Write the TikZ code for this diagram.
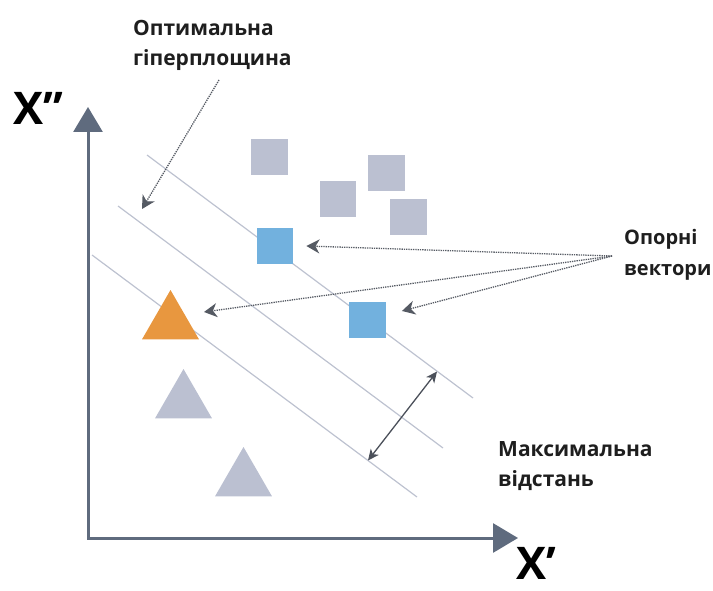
\documentclass[tikz,border=0pt]{standalone}
\usepackage{fontspec}
\setmainfont{Open Sans}
\usetikzlibrary{arrows.meta,shapes.geometric}

\definecolor{axiscol}{HTML}{5F6B7E}
\definecolor{ptgray}{HTML}{BBC0D1}
\definecolor{svblue}{HTML}{72B1DE}
\definecolor{svorange}{HTML}{E8973F}
\definecolor{planecol}{HTML}{BDC2D0}
\definecolor{gapcol}{HTML}{4B505A}
\definecolor{dotcol}{HTML}{555A63}
\definecolor{labelcol}{HTML}{1E1E1E}

\begin{document}
\begin{tikzpicture}[x=1pt,y=-1pt,
  axis/.style={draw=axiscol,line width=3pt,
    {Triangle[length=25pt,width=29pt]}-{Triangle[length=25pt,width=29pt]}},
  plane/.style={draw=planecol,line width=1.2pt},
  sqpt/.style={rectangle,minimum size=36.5pt,inner sep=0pt},
  tript/.style={regular polygon,regular polygon sides=3,minimum size=65.8pt,inner sep=0pt},
  pointer/.style={draw=dotcol,densely dotted,line width=1.3pt,
    -{Stealth[length=13pt,width=14pt,inset=4pt]}},
  gap/.style={draw=gapcol,line width=1.3pt,
    {Stealth[length=11pt,width=10pt,inset=3pt]}-{Stealth[length=11pt,width=10pt,inset=3pt]}},
  caption/.style={inner sep=0pt,align=left,text=labelcol,
    font=\bfseries\fontsize{21}{30}\selectfont},
  axlabel/.style={inner sep=0pt,text=black,font=\bfseries\fontsize{45}{45}\selectfont}]
\useasboundingbox (0,0) rectangle (713,591);

% axes
\coordinate (ytip) at (88,107);
\coordinate (origin) at (88,538);
\coordinate (xtip) at (518,538);
\draw[axis] (ytip) -- (origin) -- (xtip);
\node[axlabel,anchor=base west] (ylab) at (13,125) {X’\kern1pt’};
\node[axlabel,anchor=base west] (xlab) at (516,579) {X’};

% separating hyperplane and the two margins
\coordinate (m1a) at (147,155); \coordinate (m1b) at (473,398);
\coordinate (h0a) at (118,206); \coordinate (h0b) at (443,448);
\coordinate (m2a) at (92,255);  \coordinate (m2b) at (417,497);
\draw[plane] (m1a) -- (m1b);
\draw[plane] (h0a) -- (h0b);
\draw[plane] (m2a) -- (m2b);

% square class
\node[sqpt,fill=ptgray] (g1) at (269.5,157) {};
\node[sqpt,fill=ptgray] (g2) at (338,199) {};
\node[sqpt,fill=ptgray] (g3) at (386.5,173) {};
\node[sqpt,fill=ptgray] (g4) at (408.5,217) {};
\node[sqpt,fill=svblue] (b1) at (275,246) {};
\node[sqpt,fill=svblue] (b2) at (367.5,320) {};

% triangle class
\node[tript,fill=svorange] (t0) at (170.5,322.9) {};
\node[tript,fill=ptgray] (t1) at (183.5,401.9) {};
\node[tript,fill=ptgray] (t2) at (243.5,479.9) {};

% margin width
\coordinate (w2) at (368,460.5);
\coordinate (w1) at (437,371.5);
\draw[gap] (w2) -- (w1);

% labels
\node[caption,anchor=north west] (hyp) at (133,20) {Оптимальна\\гіперплощина};
\node[caption,anchor=north west,font=\bfseries\fontsize{20}{31}\selectfont]
  (sv) at (624,229.5) {Опорні\\вектори};
\node[caption,anchor=north west] (maxd) at (498,441.5) {Максимальна\\відстань};

% pointers
\coordinate (hypfrom) at (219,80);
\coordinate (hypto) at (142,209);
\draw[pointer] (hypfrom) -- (hypto);

\coordinate (svfrom) at (612,256);
\coordinate (t0to) at (204,312);
\draw[pointer] (svfrom) -- ([shift={(13,0)}]b1.east);
\draw[pointer] (svfrom) -- (t0to);
\draw[pointer] (svfrom) -- ([shift={(16,-9)}]b2.east);
\end{tikzpicture}
\end{document}
